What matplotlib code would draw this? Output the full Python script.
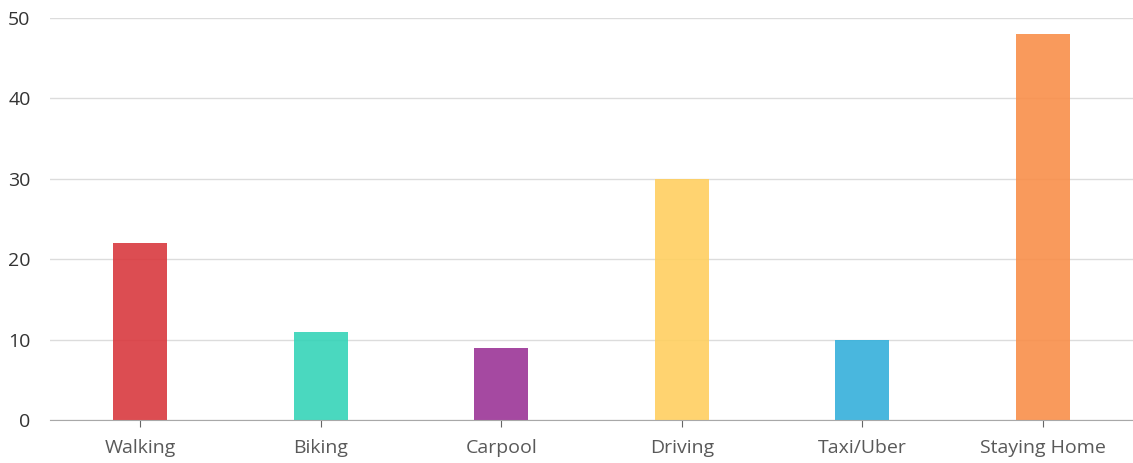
import matplotlib
matplotlib.use("Agg")
import matplotlib.pyplot as plt
import numpy as np

# --- dados ---
categories = ["Walking", "Biking", "Carpool", "Driving", "Taxi/Uber", "Staying Home"]
values = [22, 11, 9, 30, 10, 48]
colors = ["#d9393f", "#36d4b8", "#9b3597", "#ffcf60", "#35b0db", "#f98f4a"]
y_ticks = [0, 10, 20, 30, 40, 50]

plt.rcParams["font.family"] = ["Open Sans", "DejaVu Sans"]

fig = plt.figure(figsize=(11.33, 4.63), dpi=100)
ax = fig.add_axes([50 / 1133, 1 - 420 / 463, 1 - 50 / 1133, (420 - 18) / 463])

x = np.arange(len(categories))
ax.bar(x, values, width=0.3, color=colors, alpha=0.9, zorder=3)

ax.set_xlim(-0.5, 5.5)
ax.set_ylim(0, 50)
ax.set_yticks(y_ticks)
ax.set_xticks(x)
ax.set_xticklabels(categories)

ax.yaxis.grid(True, color="#dcdcdc", linewidth=1, zorder=0)
ax.set_axisbelow(True)

for side in ["top", "right", "left"]:
    ax.spines[side].set_visible(False)
ax.spines["bottom"].set_color("#a8a8a8")
ax.spines["bottom"].set_zorder(4)

ax.tick_params(axis="y", length=0, pad=14, labelsize=14, labelcolor="#333333")
ax.tick_params(axis="x", length=5, color="#666666", pad=9, labelsize=14,
               labelcolor="#595959")

fig.savefig("out.png", dpi=100)
